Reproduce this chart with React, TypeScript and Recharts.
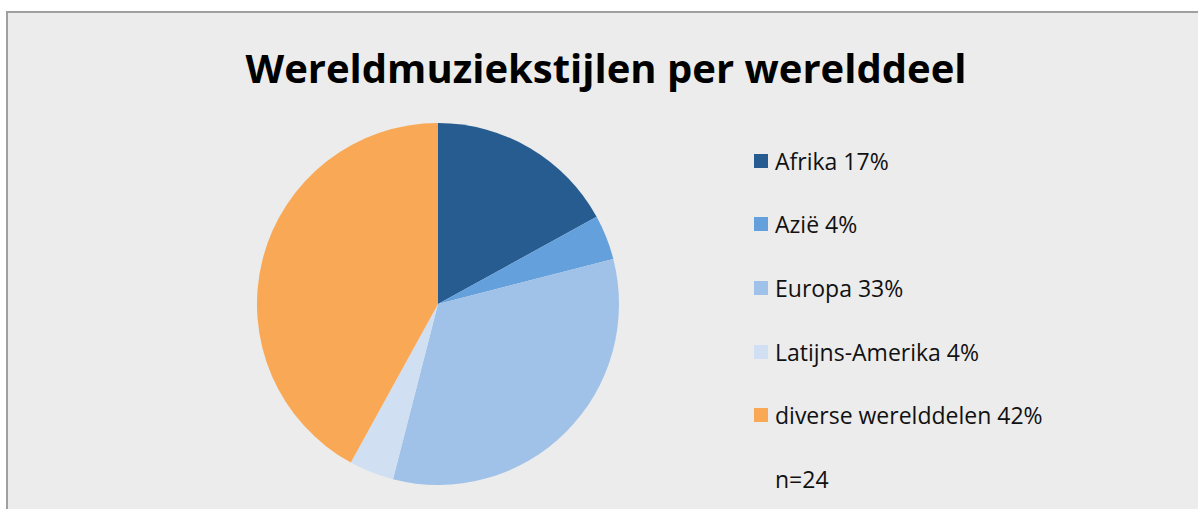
import React from "react";
import { PieChart, Pie, Cell, Legend } from "recharts";

const regions = ["Afrika", "Azië", "Europa", "Latijns-Amerika", "diverse werelddelen"];
const percents = [17, 4, 33, 4, 42];
const colors = ["#265c90", "#64a0dc", "#a0c2e8", "#d0e0f2", "#f9a855"];
const sampleNote = "n=24";

const data = regions.map((name, i) => ({ name, value: percents[i], label: `${name} ${percents[i]}%` }));

const FONT = "'Open Sans', 'Noto Sans', sans-serif";

function LegendList() {
  return (
    <div style={{ fontFamily: FONT, fontSize: 23, color: "#111" }}>
      {data.map((d, i) => (
        <div key={d.name} style={{ height: 63.6, display: "flex", alignItems: "center" }}>
          <span style={{ width: 14, height: 14, background: colors[i], marginRight: 7, flex: "none" }} />
          <span>{d.label}</span>
        </div>
      ))}
      <div style={{ height: 63.6, display: "flex", alignItems: "center", paddingLeft: 21 }}>{sampleNote}</div>
    </div>
  );
}

export default function App() {
  return (
    <div
      style={{
        position: "absolute",
        left: 6,
        top: 11,
        width: 1300,
        height: 600,
        background: "#ececec",
        border: "2px solid #a0a0a0",
      }}
    >
      <div
        style={{
          position: "absolute",
          left: 0,
          width: 1196,
          top: 28,
          textAlign: "center",
          fontFamily: FONT,
          fontWeight: 700,
          fontSize: 40,
          color: "#000",
          lineHeight: "54px",
        }}
      >
        Wereldmuziekstijlen per werelddeel
      </div>
      <PieChart width={1190} height={496} style={{ position: "absolute", left: 0, top: 0 }}>
        <Pie
          data={data}
          dataKey="value"
          nameKey="name"
          cx={425}
          cy={286}
          outerRadius={181}
          startAngle={90}
          endAngle={-270}
          stroke="none"
          isAnimationActive={false}
        >
          {data.map((d, i) => (
            <Cell key={d.name} fill={colors[i]} />
          ))}
        </Pie>
        <Legend
          content={() => <LegendList />}
          wrapperStyle={{ position: "absolute", left: 746, top: 116, width: 400 }}
        />
      </PieChart>
    </div>
  );
}
